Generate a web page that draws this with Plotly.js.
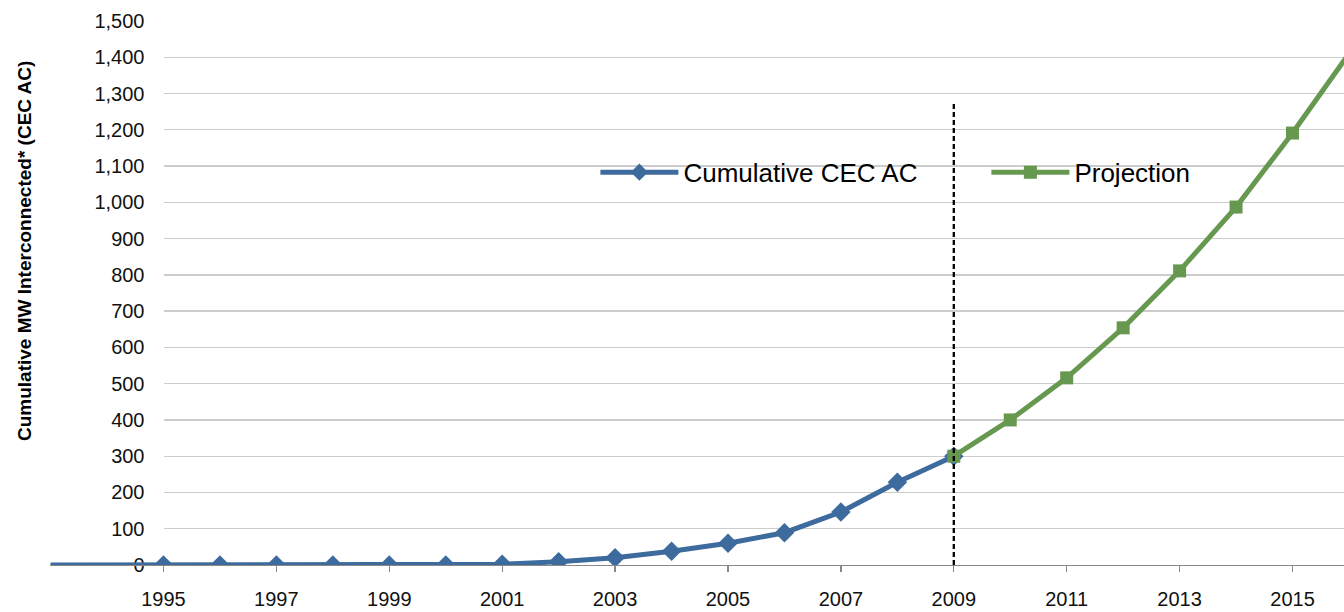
<!DOCTYPE html>
<html>
<head>
<meta charset="utf-8">
<script src="https://cdn.plot.ly/plotly-3.0.1.min.js"></script>
<style>html,body{margin:0;padding:0;background:#fff}#chart{width:1344px;height:612px}</style>
</head>
<body>
<div id="chart"></div>
<script>
// Data
const actualYears = [1993,1994,1995,1996,1997,1998,1999,2000,2001,2002,2003,2004,2005,2006,2007,2008,2009];
const actualMW    = [0,0,0,0,0,0,0,0,2,9,20,38,60,89,146,228,300];
const projYears   = [2009,2010,2011,2012,2013,2014,2015,2016];
const projMW      = [300,400,516,654,811,987,1191,1410];
const xTickYears  = [1995,1997,1999,2001,2003,2005,2007,2009,2011,2013,2015];
const yTicks      = [0,100,200,300,400,500,600,700,800,900,1000,1100,1200,1300,1400,1500];
const yTitle = 'Cumulative MW Interconnected* (CEC AC)';
const projectionStart = 2009;
const firstMarkedYear = 1995;

const blue = '#3E6B9D';
const green = '#67984F';
const font = 'Liberation Sans, Arial, sans-serif';

const traces = [
  {
    x: actualYears, y: actualMW, name: 'Cumulative CEC AC',
    type: 'scatter', mode: 'lines+markers', xaxis: 'x2', yaxis: 'y2',
    line: {color: blue, width: 5},
    marker: {symbol: 'diamond', color: blue, opacity: 1, line: {width: 0},
             size: actualYears.map(y => y < firstMarkedYear ? 0 : 15)}
  },
  {
    x: projYears, y: projMW, name: 'Projection',
    type: 'scatter', mode: 'lines+markers', xaxis: 'x2', yaxis: 'y2',
    line: {color: green, width: 5},
    marker: {symbol: 'square', color: green, size: 13, opacity: 1, line: {width: 0}},
    cliponaxis: false
  }
];

const layout = {
  width: 1344, height: 612,
  margin: {l: 0, r: 0, t: 21, b: 47, autoexpand: false},
  paper_bgcolor: '#fff', plot_bgcolor: 'rgba(0,0,0,0)',
  font: {family: font, color: '#000', size: 20},
  showlegend: true,
  legend: {
    orientation: 'h', x: 0.443, y: 0.722, xanchor: 'left', yanchor: 'middle',
    bgcolor: 'rgba(0,0,0,0)', font: {size: 26, family: font},
    itemwidth: 78, entrywidth: 298, entrywidthmode: 'pixels'
  },
  xaxis: {
    domain: [163.5/1344, 1], range: [1995, 2015.912], anchor: 'y',
    showticklabels: false, showgrid: false, showline: false, zeroline: false, ticks: ''
  },
  yaxis: {
    range: [0, 1500], anchor: 'x', tickvals: yTicks, tickformat: ',',
    showgrid: true, gridcolor: '#cccccc', gridwidth: 1.3, zeroline: false,
    showline: false, ticks: '', ticklabelstandoff: 18,
    tickfont: {size: 20, color: '#111'}
  },
  xaxis2: {
    domain: [50/1344, 1], range: [1992.99, 2015.912], anchor: 'y2',
    tickvals: xTickYears, ticks: 'outside', ticklen: 6, tickcolor: '#888', tickwidth: 1.3,
    showline: true, linecolor: '#888', linewidth: 1.3, showgrid: false, zeroline: false,
    ticklabelstandoff: 10,
    tickfont: {size: 20, color: '#111'}
  },
  yaxis2: {
    domain: [0, 1], range: [0, 1500], anchor: 'x2', visible: false, showgrid: false, zeroline: false
  },
  annotations: [
    {text: yTitle, xref: 'paper', yref: 'paper', x: 24/1344, y: 314/544, textangle: -90,
     showarrow: false, xanchor: 'center', yanchor: 'middle',
     font: {size: 19, family: font, weight: 'bold', color: '#000'}}
  ],
  shapes: [
    {type: 'rect', layer: 'between', xref: 'paper', yref: 'y', x0: 571/1344, x1: 1213/1344, y0: 1030, y1: 1170,
     fillcolor: '#fff', line: {width: 0}},
    {type: 'line', layer: 'above', xref: 'x2', yref: 'y2', x0: projectionStart, x1: projectionStart, y0: 0, y1: 1275,
     line: {color: '#000', width: 2.3, dash: '5px,3px'}}
  ]
};

Plotly.newPlot('chart', traces, layout, {displayModeBar: false, staticPlot: true});
</script>
</body>
</html>
